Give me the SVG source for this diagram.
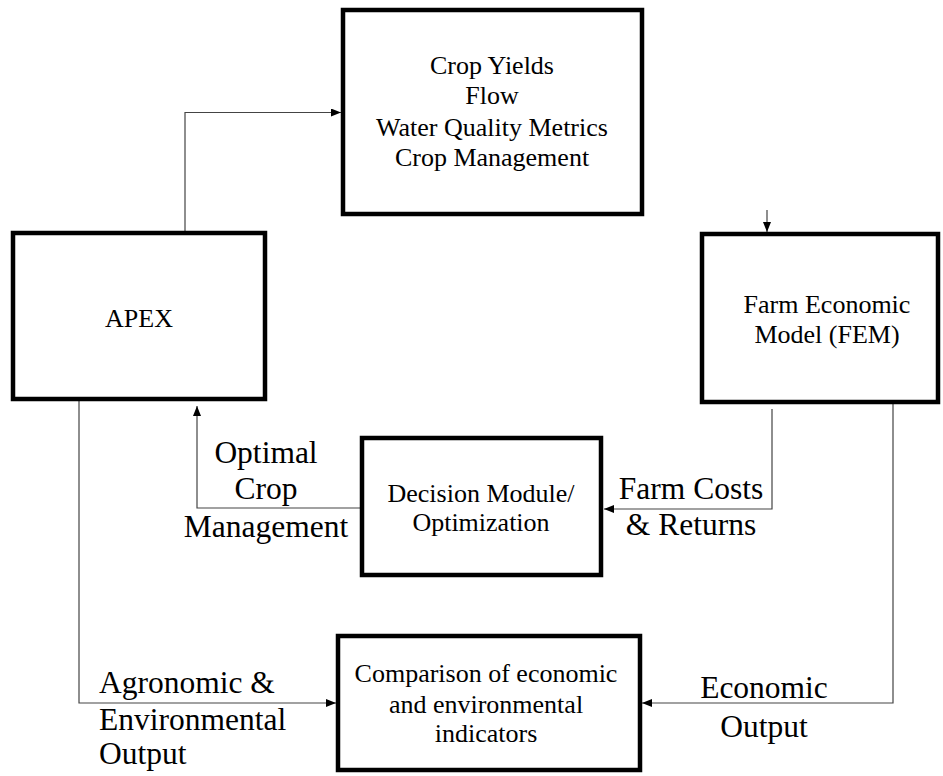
<svg xmlns="http://www.w3.org/2000/svg" width="943" height="776" viewBox="0 0 943 776">
<style>
.box{fill:#fff;stroke:#000;stroke-width:4.5}
.t{font-family:'Liberation Serif','Times New Roman',Times,serif;font-size:26px;fill:#000;text-anchor:middle}
.l{font-family:'Liberation Serif','Times New Roman',Times,serif;font-size:31.5px;fill:#000}
.c{fill:none;stroke:#444;stroke-width:1.2}
</style>
<defs>
<marker id="ah" viewBox="0 0 10 8" refX="10" refY="4" markerWidth="10" markerHeight="8" markerUnits="userSpaceOnUse" orient="auto">
<path d="M0,0 L10,4 L0,8 Z" fill="#000"/>
</marker>
</defs>
<rect width="943" height="776" fill="#fff"/>
<g id="connectors">
<path class="c" d="M185,233 V112.5 H341" marker-end="url(#ah)"/>
<path class="c" d="M767,210 V232" marker-end="url(#ah)"/>
<path class="c" d="M362,508 H197 V406" marker-end="url(#ah)"/>
<path class="c" d="M772,409 V509 H604" marker-end="url(#ah)"/>
<path class="c" d="M79,401 V703 H336" marker-end="url(#ah)"/>
<path class="c" d="M893,403 V703 H642" marker-end="url(#ah)"/>
</g>
<g id="outputs">
<rect class="box" x="343" y="10" width="299" height="204"/>
<text class="t" x="492" y="74">Crop Yields</text>
<text class="t" x="492" y="104">Flow</text>
<text class="t" x="492" y="136">Water Quality Metrics</text>
<text class="t" x="492" y="166">Crop Management</text>
</g>
<g id="apex">
<rect class="box" x="13" y="233" width="252" height="166"/>
<text class="t" x="139" y="327">APEX</text>
</g>
<g id="fem">
<rect class="box" x="702" y="234" width="236" height="168"/>
<text class="t" x="827" y="313">Farm Economic</text>
<text class="t" x="827" y="343">Model (FEM)</text>
</g>
<g id="decision">
<rect class="box" x="362" y="438" width="239" height="137"/>
<text class="t" x="481" y="502">Decision Module/</text>
<text class="t" x="481" y="531">Optimization</text>
</g>
<g id="comparison">
<rect class="box" x="338" y="636" width="302" height="134"/>
<text class="t" x="486" y="682">Comparison of economic</text>
<text class="t" x="486" y="713">and environmental</text>
<text class="t" x="486" y="742">indicators</text>
</g>
<g id="labels">
<text class="l" x="266" y="463" text-anchor="middle">Optimal</text>
<text class="l" x="266" y="499" text-anchor="middle">Crop</text>
<text class="l" x="266" y="537" text-anchor="middle">Management</text>
<text class="l" x="691" y="499" text-anchor="middle">Farm Costs</text>
<text class="l" x="691" y="535" text-anchor="middle">&amp; Returns</text>
<text class="l" x="99" y="693">Agronomic &amp;</text>
<text class="l" x="99" y="730">Environmental</text>
<text class="l" x="99" y="764">Output</text>
<text class="l" x="764" y="698" text-anchor="middle">Economic</text>
<text class="l" x="764" y="737" text-anchor="middle">Output</text>
</g>
</svg>
